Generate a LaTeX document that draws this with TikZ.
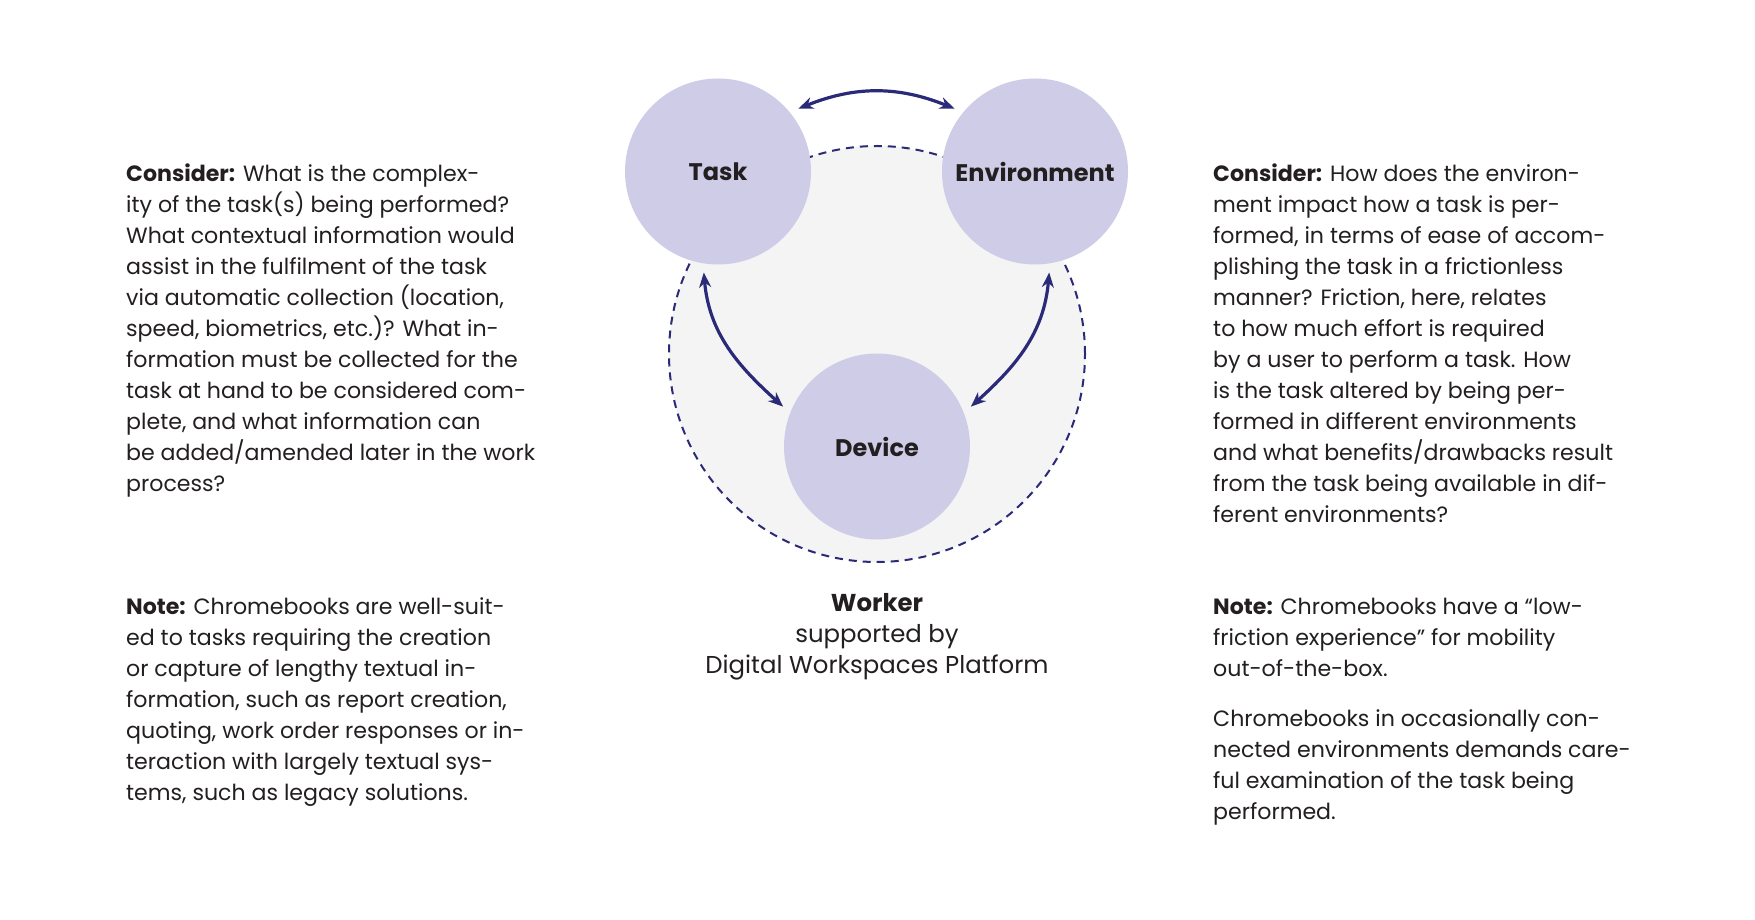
\documentclass[tikz,border=0pt]{standalone}
\usepackage{fontspec}
\setmainfont{Poppins}
\usetikzlibrary{arrows.meta}
\definecolor{lav}{HTML}{CFCCE7}
\definecolor{bgc}{HTML}{F4F4F4}
\definecolor{navy}{HTML}{2B2A78}
\definecolor{txt}{HTML}{231F20}
\tikzset{
  circ/.style={circle, fill=lav, minimum size=186pt, inner sep=0pt, outer sep=9pt,
    font=\bfseries\fontsize{24}{28}\selectfont, text=txt},
  body/.style={anchor=base west, inner sep=0pt, align=left, text=txt,
    font=\fontsize{22.1}{31}\selectfont},
  link/.style={draw=navy, line width=3.2pt, {Stealth[length=15pt,width=12pt]}-{Stealth[length=15pt,width=12pt]}},
}
\begin{document}
\begin{tikzpicture}[x=1pt,y=1pt]
\useasboundingbox (0,0) rectangle (1755,919);
\fill[white] (0,0) rectangle (1755,919);
% worker circle
\node[circle, fill=bgc, draw=navy, dash pattern=on 8pt off 6pt, line width=2pt,
  minimum size=416pt, inner sep=0pt] (worker) at (877,565) {};
% main circles
\node[circ] (task) at (718,747.5) {Task};
\node[circ] (env) at (1035,747.5) {Environment};
\node[circ] (device) at (877,472.5) {Device};
% connectors
\draw[link] (task.38) to[out=22, in=158] (env.142);
\draw[link] (task.-98) to[out=-85, in=138] (device.157);
\draw[link] (env.-82) to[out=-95, in=42] (device.23);
% caption (anchor = baseline of last line)
\node[anchor=base, inner sep=0pt, align=center, text=txt,
  font=\fontsize{24.4}{31.3}\selectfont] (cap) at (877,245.1)
  {\textbf{Worker}\\supported by\\Digital Workspaces Platform};
% text blocks (anchor = baseline of last line)
\node[body] (lc) at (126,427.3) {\textbf{Consider:} What is the complex-\\
ity of the task(s) being performed?\\
What contextual information would\\
assist in the fulfilment of the task\\
via automatic collection (location,\\
speed, biometrics, etc.)? What in-\\
formation must be collected for the\\
task at hand to be considered com-\\
plete, and what information can\\
be added/amended later in the work\\
process?};
\node[body] (rc) at (1213,396.3) {\textbf{Consider:} How does the environ-\\
ment impact how a task is per-\\
formed, in terms of ease of accom-\\
plishing the task in a frictionless\\
manner? Friction, here, relates\\
to how much effort is required\\
by a user to perform a task. How\\
is the task altered by being per-\\
formed in different environments\\
and what benefits/drawbacks result\\
from the task being available in dif-\\
ferent environments?};
\node[body] (ln) at (126,119) {\textbf{Note:} Chromebooks are well-suit-\\
ed to tasks requiring the creation\\
or capture of lengthy textual in-\\
formation, such as report creation,\\
quoting, work order responses or in-\\
teraction with largely textual sys-\\
tems, such as legacy solutions.};
\node[body] (rn) at (1213,243) {\textbf{Note:} Chromebooks have a “low-\\
friction experience” for mobility\\
out-of-the-box.};
\node[body] (rn2) at (1213,99.3) {Chromebooks in occasionally con-\\
nected environments demands care-\\
ful examination of the task being\\
performed.};
\end{tikzpicture}
\end{document}
